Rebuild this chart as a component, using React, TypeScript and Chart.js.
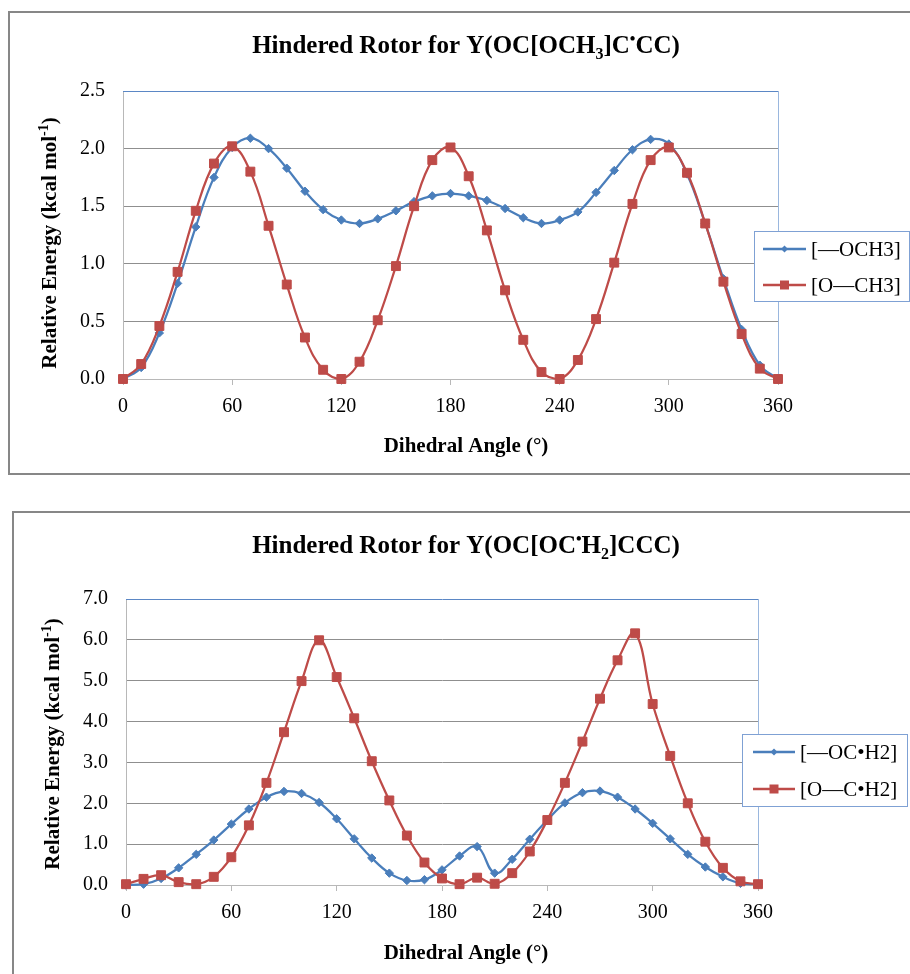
import React, { useEffect, useRef } from "react";
import { Chart, registerables } from "chart.js";

Chart.register(...registerables);

// ---------- data ----------
const angles = [
  0, 10, 20, 30, 40, 50, 60, 70, 80, 90, 100, 110, 120, 130, 140, 150, 160, 170, 180,
  190, 200, 210, 220, 230, 240, 250, 260, 270, 280, 290, 300, 310, 320, 330, 340, 350, 360,
];

// Chart 1: Y(OC[OCH3]C•CC)
const och3Labels = ["[\u2014OCH3]", "[O\u2014CH3]"];
const och3Blue = [
  0.0, 0.1, 0.4, 0.83, 1.32, 1.75, 2.01, 2.09, 2.0, 1.83, 1.63, 1.47, 1.38, 1.35, 1.39, 1.46, 1.54, 1.59, 1.61,
  1.59, 1.55, 1.48, 1.4, 1.35, 1.38, 1.45, 1.62, 1.81, 1.99, 2.08, 2.04, 1.78, 1.35, 0.87, 0.43, 0.12, 0.0,
];
const och3Red = [
  0.0, 0.13, 0.46, 0.93, 1.46, 1.87, 2.02, 1.8, 1.33, 0.82, 0.36, 0.08, 0.0, 0.15, 0.51, 0.98, 1.5, 1.9, 2.01,
  1.76, 1.29, 0.77, 0.34, 0.06, 0.0, 0.165, 0.52, 1.01, 1.52, 1.9, 2.01, 1.79, 1.35, 0.845, 0.39, 0.09, 0.0,
];

// Chart 2: Y(OC[OC•H2]CCC)
const och2Labels = ["[\u2014OC\u2022H2]", "[O\u2014C\u2022H2]"];
const och2Blue = [
  0.0, 0.02, 0.16, 0.42, 0.75, 1.1, 1.49, 1.86, 2.15, 2.29, 2.24, 2.02, 1.62, 1.13, 0.66, 0.29, 0.11, 0.13, 0.37,
  0.71, 0.94, 0.29, 0.63, 1.12, 1.59, 2.01, 2.26, 2.3, 2.15, 1.86, 1.51, 1.13, 0.75, 0.44, 0.2, 0.04, 0.02,
];
const och2Red = [
  0.02, 0.15, 0.24, 0.07, 0.02, 0.2, 0.68, 1.46, 2.5, 3.74, 4.99, 5.99, 5.09, 4.08, 3.03, 2.07, 1.21, 0.55, 0.16,
  0.02, 0.18, 0.03, 0.29, 0.82, 1.59, 2.5, 3.51, 4.56, 5.5, 6.16, 4.43, 3.16, 2.0, 1.06, 0.42, 0.09, 0.02,
];

const xTickStep = 60;
const xMax = 360;

type Part = [string, "n" | "sub" | "sup"];

const title1: Part[] = [
  ["Hindered Rotor for Y(OC[OCH", "n"],
  ["3", "sub"],
  ["]C", "n"],
  ["\u2022", "sup"],
  ["CC)", "n"],
];
const title2: Part[] = [
  ["Hindered Rotor for Y(OC[OC", "n"],
  ["\u2022", "sup"],
  ["H", "n"],
  ["2", "sub"],
  ["]CCC)", "n"],
];
const yTitleParts: Part[] = [
  ["Relative Energy (kcal mol", "n"],
  ["-1", "sup"],
  [")", "n"],
];
const xTitleText = "Dihedral Angle (\u00b0)";

const FAMILY = '"Liberation Serif", "Times New Roman", serif';
const BLUE = "#4a7ebb";
const RED = "#be4b48";

interface Spec {
  canvasTop: number;
  W: number;
  H: number;
  plot: { l: number; r: number; t: number; b: number };
  yMax: number;
  yStep: number;
  title: Part[];
  titleX: number;
  titleY: number;
  xTitleY: number;
  yTitleX: number;
  yTitleY: number;
  legend: { x1: number; y1: number; x2: number; y2: number; rows: number[]; lx1: number; lx2: number; tx: number };
  labels: string[];
  blue: number[];
  red: number[];
}

function drawRich(ctx: CanvasRenderingContext2D, parts: Part[], cx: number, cy: number, size: number, bold: boolean) {
  const f = (s: number) => `${bold ? "bold " : ""}${s}px ${FAMILY}`;
  const small = Math.round(size * 0.65);
  let total = 0;
  const widths = parts.map(([t, k]) => {
    ctx.font = f(k === "n" ? size : small);
    const w = ctx.measureText(t).width;
    total += w;
    return w;
  });
  let x = cx - total / 2;
  ctx.textBaseline = "alphabetic";
  ctx.textAlign = "left";
  const base = cy + size * 0.33;
  parts.forEach(([t, k], i) => {
    ctx.font = f(k === "n" ? size : small);
    let y = base;
    if (k === "sub") y = base + size * 0.24;
    if (k === "sup") y = base - size * 0.38;
    ctx.fillText(t, x, y);
    x += widths[i];
  });
}

function RotorChart({ spec }: { spec: Spec }) {
  const ref = useRef<HTMLCanvasElement | null>(null);
  useEffect(() => {
    const canvas = ref.current;
    if (!canvas) return;
    const { plot, W, H } = spec;
    const deco = {
      id: "deco",
      beforeDatasetsDraw(chart: any) {
        const { ctx, chartArea: a } = chart;
        ctx.save();
        ctx.lineWidth = 1;
        ctx.strokeStyle = "#5b87c5";
        ctx.beginPath();
        ctx.moveTo(a.left, Math.round(a.top) + 0.5);
        ctx.lineTo(a.right + 1, Math.round(a.top) + 0.5);
        ctx.stroke();
        ctx.strokeStyle = "#9ab7de";
        ctx.beginPath();
        ctx.moveTo(Math.round(a.right) + 0.5, a.top);
        ctx.lineTo(Math.round(a.right) + 0.5, a.bottom);
        ctx.stroke();
        ctx.restore();
      },
      afterDraw(chart: any) {
        const ctx: CanvasRenderingContext2D = chart.ctx;
        ctx.save();
        ctx.fillStyle = "#000";
        drawRich(ctx, spec.title, spec.titleX, spec.titleY, 25, true);
        drawRich(ctx, [[xTitleText, "n"]], spec.titleX, spec.xTitleY, 21, true);
        ctx.save();
        ctx.translate(spec.yTitleX, spec.yTitleY);
        ctx.rotate(-Math.PI / 2);
        drawRich(ctx, yTitleParts, 0, 0, 21, true);
        ctx.restore();
        // legend
        const L = spec.legend;
        ctx.fillStyle = "#fff";
        ctx.fillRect(L.x1, L.y1, L.x2 - L.x1, L.y2 - L.y1);
        ctx.strokeStyle = "#7fa1d4";
        ctx.lineWidth = 1;
        ctx.strokeRect(L.x1 + 0.5, L.y1 + 0.5, L.x2 - L.x1, L.y2 - L.y1);
        const colors = [BLUE, RED];
        L.rows.forEach((ry, i) => {
          ctx.strokeStyle = colors[i];
          ctx.fillStyle = colors[i];
          ctx.lineWidth = 2.5;
          ctx.beginPath();
          ctx.moveTo(L.lx1, ry);
          ctx.lineTo(L.lx2, ry);
          ctx.stroke();
          const mx = (L.lx1 + L.lx2) / 2;
          if (i === 0) {
            ctx.beginPath();
            ctx.moveTo(mx - 3.5, ry);
            ctx.lineTo(mx, ry - 3.5);
            ctx.lineTo(mx + 3.5, ry);
            ctx.lineTo(mx, ry + 3.5);
            ctx.closePath();
            ctx.fill();
          } else {
            ctx.fillRect(mx - 4.5, ry - 4.5, 9, 9);
          }
          ctx.fillStyle = "#000";
          ctx.font = `21px ${FAMILY}`;
          ctx.textAlign = "left";
          ctx.textBaseline = "middle";
          ctx.fillText(spec.labels[i], L.tx, ry + 1);
        });
        ctx.restore();
      },
    };

    const chart = new Chart(canvas, {
      type: "line",
      data: {
        datasets: [
          {
            label: spec.labels[0],
            data: angles.map((a, i) => ({ x: a, y: spec.blue[i] })),
            borderColor: BLUE,
            backgroundColor: BLUE,
            borderWidth: 2.25,
            pointStyle: "rectRot",
            pointRadius: 4.2,
            pointBorderWidth: 1,
            tension: 0.4,
            clip: false as any,
            order: 2,
          },
          {
            label: spec.labels[1],
            data: angles.map((a, i) => ({ x: a, y: spec.red[i] })),
            borderColor: RED,
            backgroundColor: RED,
            borderWidth: 2.25,
            pointStyle: "rect",
            pointRadius: 6.3,
            pointBorderWidth: 1,
            tension: 0.4,
            clip: false as any,
            order: 1,
          },
        ],
      },
      options: {
        animation: false,
        responsive: false,
        events: [],
        layout: { padding: { left: 0, top: plot.t, right: W - plot.r, bottom: 0 } },
        plugins: { legend: { display: false }, title: { display: false }, tooltip: { enabled: false } },
        scales: {
          x: {
            type: "linear",
            min: 0,
            max: xMax,
            afterFit: (s: any) => {
              s.height = H - plot.b;
            },
            ticks: {
              stepSize: xTickStep,
              color: "#000",
              font: { family: FAMILY, size: 20 },
              padding: 10,
              maxRotation: 0,
            },
            grid: { drawOnChartArea: false, drawTicks: true, tickLength: 6, color: "#b8b8b8" },
            border: { display: true, color: "#b8b8b8", width: 1 },
          },
          y: {
            min: 0,
            max: spec.yMax,
            afterFit: (s: any) => {
              s.width = plot.l;
            },
            ticks: {
              stepSize: spec.yStep,
              color: "#000",
              font: { family: FAMILY, size: 20 },
              padding: 18,
              callback: (v: any) => Number(v).toFixed(1),
            },
            grid: {
              drawTicks: false,
              color: (c: any) =>
                c.tick && (c.tick.value === 0 || c.tick.value === spec.yMax) ? "rgba(0,0,0,0)" : "#8f8f8f",
            },
            border: { display: true, color: "#b8b8b8", width: 1 },
          },
        },
      },
      plugins: [deco],
    } as any);
    return () => chart.destroy();
  }, [spec]);

  return (
    <canvas
      ref={ref}
      width={spec.W}
      height={spec.H}
      style={{ position: "absolute", left: 0, top: spec.canvasTop, width: spec.W, height: spec.H }}
    />
  );
}

const spec1: Spec = {
  canvasTop: 0,
  W: 910,
  H: 480,
  plot: { l: 123, r: 778, t: 91, b: 379 },
  yMax: 2.5,
  yStep: 0.5,
  title: title1,
  titleX: 466,
  titleY: 45,
  xTitleY: 445,
  yTitleX: 49,
  yTitleY: 243,
  legend: { x1: 754, y1: 231, x2: 909, y2: 301, rows: [249, 285], lx1: 763, lx2: 806, tx: 811 },
  labels: och3Labels,
  blue: och3Blue,
  red: och3Red,
};

const spec2: Spec = {
  canvasTop: 490,
  W: 910,
  H: 484,
  plot: { l: 126, r: 758, t: 109, b: 395 },
  yMax: 7,
  yStep: 1,
  title: title2,
  titleX: 466,
  titleY: 55,
  xTitleY: 462,
  yTitleX: 52,
  yTitleY: 254,
  legend: { x1: 742, y1: 244, x2: 907, y2: 316, rows: [262, 299], lx1: 753, lx2: 795, tx: 800 },
  labels: och2Labels,
  blue: och2Blue,
  red: och2Red,
};

export default function App() {
  return (
    <div
      style={{
        position: "absolute",
        left: 0,
        top: 0,
        width: 910,
        height: 974,
        overflow: "hidden",
        background: "#fff",
      }}
    >
      <div
        style={{
          position: "absolute",
          left: 8,
          top: 11,
          width: 930,
          height: 464,
          border: "2px solid #878787",
          boxSizing: "border-box",
        }}
      />
      <div
        style={{
          position: "absolute",
          left: 12,
          top: 511,
          width: 930,
          height: 500,
          border: "2px solid #878787",
          boxSizing: "border-box",
        }}
      />
      <RotorChart spec={spec1} />
      <RotorChart spec={spec2} />
    </div>
  );
}
